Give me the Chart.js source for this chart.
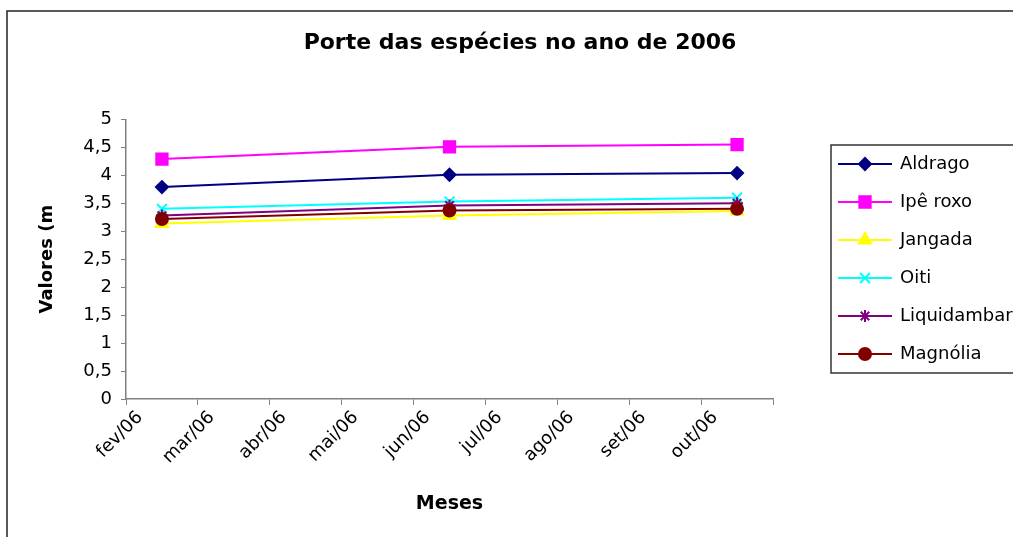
<!DOCTYPE html>
<html>
<head>
<meta charset="utf-8">
<script src="https://cdn.jsdelivr.net/npm/chart.js@4.4.1/dist/chart.umd.min.js"></script>
<style>
  html, body { margin: 0; padding: 0; background: #fff; }
</style>
</head>
<body>
<canvas id="porteChart" width="1013" height="537"></canvas>
<script>
/* ====== dados ===== */
const monthLabels = ['fev/06', 'mar/06', 'abr/06', 'mai/06', 'jun/06', 'jul/06', 'ago/06', 'set/06', 'out/06'];
// medições no meio de fev, jun e out
const samplePos = [0.5, 4.5, 8.5];

const seriesNames = ['Aldrago', 'Ipê roxo', 'Jangada', 'Oiti', 'Liquidambar', 'Magnólia'];
const aldrago     = [3.79, 4.01, 4.04];
const ipeRoxo     = [4.29, 4.51, 4.55];
const jangada     = [3.14, 3.28, 3.36];
const oiti        = [3.40, 3.53, 3.60];
const liquidambar = [3.28, 3.46, 3.50];
const magnolia    = [3.22, 3.37, 3.40];

const seriesValues = [aldrago, ipeRoxo, jangada, oiti, liquidambar, magnolia];
const seriesColors = ['#000080', '#FF00FF', '#FFFF00', '#00FFFF', '#800080', '#800000'];
const seriesMarkers = ['rectRot', 'rect', 'triangle', 'crossRot', 'star', 'circle'];
const markerRadius = [6, 8, 7, 7, 6, 6];

const FONT = 'DejaVu Sans';

/* ====== plugins ===== */
const frame = {
    id: 'frame',
    beforeDraw(chart) {
        const ctx = chart.ctx;
        ctx.save();
        ctx.fillStyle = '#fff';
        ctx.fillRect(0, 0, chart.width, chart.height);
        ctx.strokeStyle = '#222';
        ctx.lineWidth = 1.5;
        ctx.strokeRect(7, 11, 1200, 800);
        ctx.restore();
    }
};

const excelLegend = {
    id: 'excelLegend',
    afterDraw(chart) {
        const ctx = chart.ctx;
        ctx.save();
        ctx.strokeStyle = '#333';
        ctx.lineWidth = 1.5;
        ctx.strokeRect(831, 145, 300, 228);
        chart.data.datasets.forEach((ds, i) => {
            const y = 164 + i * 38;
            ctx.strokeStyle = ds.borderColor;
            ctx.fillStyle = ds.backgroundColor;
            ctx.lineWidth = 2;
            ctx.beginPath();
            ctx.moveTo(838, y);
            ctx.lineTo(892, y);
            ctx.stroke();
            Chart.helpers.drawPoint(ctx, {
                pointStyle: ds.pointStyle,
                radius: ds.pointRadius,
                borderWidth: ds.pointBorderWidth,
                rotation: 0
            }, 865, y);
            ctx.fillStyle = '#000';
            ctx.font = '18px "' + FONT + '"';
            ctx.textAlign = 'left';
            ctx.textBaseline = 'middle';
            ctx.fillText(ds.label, 900, y);
        });
        ctx.restore();
    }
};

/* ====== chart ===== */
const datasets = seriesNames.map((name, i) => ({
    label: name,
    data: samplePos.map((x, k) => ({x: x, y: seriesValues[i][k]})),
    borderColor: seriesColors[i],
    backgroundColor: seriesColors[i],
    borderWidth: 2,
    pointStyle: seriesMarkers[i],
    pointRadius: markerRadius[i],
    pointHoverRadius: markerRadius[i],
    pointBorderWidth: 2,
    tension: 0,
    order: seriesNames.length - i
}));

const porteConfig = {
    type: 'line',
    data: { datasets: datasets },
    options: {
        responsive: false,
        animation: false,
        devicePixelRatio: 1,
        layout: { padding: { left: 27, right: 0, top: 0, bottom: 0 } },
        scales: {
            x: {
                type: 'linear',
                min: 0,
                max: 9,
                afterFit: (s) => { s.height = 138; },
                ticks: {
                    stepSize: 1,
                    autoSkip: false,
                    minRotation: 45,
                    maxRotation: 45,
                    labelOffset: 14,
                    padding: 2,
                    color: '#000',
                    font: { family: FONT, size: 18 },
                    callback: (v) => monthLabels[v] || ''
                },
                grid: { drawOnChartArea: false, tickLength: 6, color: '#808080' },
                border: { color: '#808080', width: 1.5 },
                title: {
                    display: true,
                    text: 'Meses',
                    color: '#000',
                    font: { family: FONT, size: 19, weight: 'bold' },
                    padding: { top: 0, bottom: 22 }
                }
            },
            y: {
                min: 0,
                max: 5,
                afterFit: (s) => { s.width = 99; },
                ticks: {
                    stepSize: 0.5,
                    padding: 9,
                    color: '#000',
                    font: { family: FONT, size: 18 },
                    callback: (v) => String(v).replace('.', ',')
                },
                grid: { drawOnChartArea: false, tickLength: 5, color: '#808080' },
                border: { color: '#808080', width: 1.5 },
                title: {
                    display: true,
                    text: 'Valores (m',
                    color: '#000',
                    font: { family: FONT, size: 18, weight: 'bold' },
                    padding: { top: 10, bottom: 0 }
                }
            },
            // espaço reservado para a legenda
            legendSpace: {
                type: 'linear',
                axis: 'y',
                position: 'right',
                display: true,
                afterFit: (s) => { s.width = 240; },
                ticks: { display: false },
                grid: { display: false },
                border: { display: false }
            }
        },
        plugins: {
            legend: { display: false },
            tooltip: { enabled: false },
            title: {
                display: true,
                text: 'Porte das espécies no ano de 2006',
                color: '#000',
                font: { family: FONT, size: 22, weight: 'bold' },
                padding: { top: 30, bottom: 63 }
            }
        }
    },
    plugins: [frame, excelLegend]
};

const porteChart = new Chart(
    document.querySelector('#porteChart'),
    porteConfig
);
</script>
</body>
</html>
